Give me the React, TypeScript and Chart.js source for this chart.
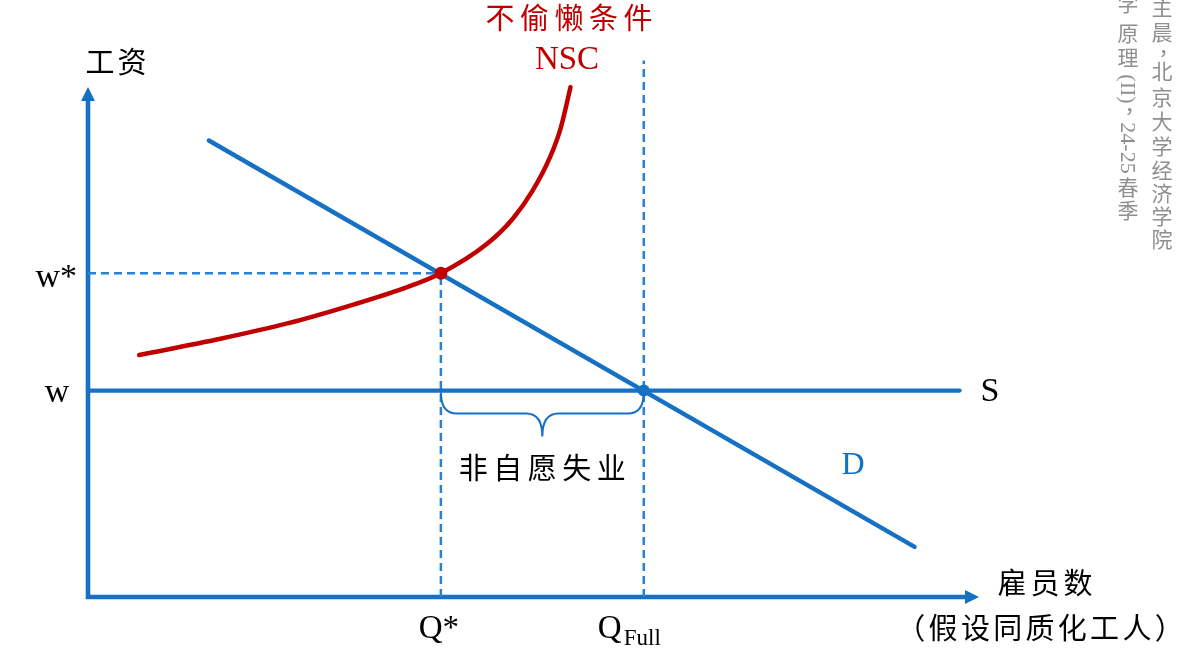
import React, { useEffect, useRef } from "react";
import { Chart, registerables } from "chart.js";

Chart.register(...registerables);

// ---- data (economic units) ----
const nscQ = [0.58, 1.5, 2.26, 3.0, 3.57, 4.0, 4.52, 4.82, 5.04, 5.24, 5.36, 5.47];
const nscW = [2.99, 3.19, 3.38, 3.61, 3.81, 4.0, 4.36, 4.68, 5.02, 5.44, 5.8, 6.3];
const demandQ = [1.37, 9.37];
const demandW = [5.64, 0.62];
const supplyQ = [0, 9.88];
const wageS = 2.55;
const qStar = 4.0;
const wStar = 4.0;
const qFull = 6.3;
const qFullTop = 6.63;
const xAxisMax = 10.1;
const yAxisTip = 6.3;

const textNSC = ["不偷懒条件", "NSC"];
const textYAxis = "工资";
const textXAxis = ["雇员数", "（假设同质化工人）"];
const textGap = "非自愿失业";
const waterRight: [string, number][] = [
  ["主", 7], ["晨", 32], ["，", 52], ["北", 71], ["京", 97], ["大", 121],
  ["学", 146], ["经", 170], ["济", 193], ["学", 216], ["院", 239],
];
const waterLeft: [string, number][] = [
  ["学", 3], ["原", 33], ["理", 57], ["(II)", 89], ["，", 110], ["24-25", 148], ["春", 187], ["季", 210],
];

const BLUE = "#1670c4";
const DASH_BLUE = "#2a80d4";
const RED = "#c00000";
const SERIF = '"Liberation Serif", "DejaVu Serif", serif';
const CJK = '"Noto Sans CJK SC", "Noto Sans", sans-serif';

function drawSpaced(ctx: CanvasRenderingContext2D, text: string, cx: number, cy: number, adv: number) {
  const chars = Array.from(text);
  const start = cx - (adv * (chars.length - 1)) / 2;
  chars.forEach((c, i) => ctx.fillText(c, start + i * adv, cy));
}

function drawVerticalColumn(ctx: CanvasRenderingContext2D, tokens: [string, number][], x: number) {
  ctx.textAlign = "center";
  ctx.textBaseline = "middle";
  for (const [t, y] of tokens) {
    if (/[A-Za-z0-9()\-]/.test(t)) {
      ctx.font = `22px ${SERIF}`;
      ctx.save();
      ctx.translate(x, y);
      ctx.rotate(Math.PI / 2);
      ctx.fillText(t, 0, 1);
      ctx.restore();
    } else if (t === "，") {
      ctx.font = `21px ${CJK}`;
      ctx.fillText(t, x + 7, y - 6);
    } else {
      ctx.font = `21px ${CJK}`;
      ctx.fillText(t, x, y);
    }
  }
}

export default function App() {
  const ref = useRef<HTMLCanvasElement>(null);

  useEffect(() => {
    const canvas = ref.current;
    if (!canvas) return;
    const ctx = canvas.getContext("2d")!;

    const annot = {
      id: "annot",
      beforeDraw(chart: any) {
        const c = chart.ctx;
        c.save();
        c.fillStyle = "#ffffff";
        c.fillRect(0, 0, chart.width, chart.height);
        c.restore();
      },
      beforeDatasetsDraw(chart: any) {
        const c = chart.ctx as CanvasRenderingContext2D;
        const xs = chart.scales.x;
        const ys = chart.scales.y;
        const x0 = xs.getPixelForValue(0);
        const y0 = ys.getPixelForValue(0);
        const yTip = ys.getPixelForValue(yAxisTip);
        const xTip = xs.getPixelForValue(xAxisMax);
        c.save();
        c.strokeStyle = BLUE;
        c.fillStyle = BLUE;
        c.lineWidth = 4.6;
        c.lineCap = "butt";
        c.beginPath();
        c.moveTo(x0, y0 + 2.3);
        c.lineTo(x0, yTip + 12);
        c.moveTo(x0 - 2.3, y0);
        c.lineTo(xTip - 12, y0);
        c.stroke();
        c.beginPath();
        c.moveTo(x0, yTip);
        c.lineTo(x0 - 7, yTip + 14);
        c.lineTo(x0 + 7, yTip + 14);
        c.closePath();
        c.fill();
        c.beginPath();
        c.moveTo(xTip, y0);
        c.lineTo(xTip - 14, y0 - 7);
        c.lineTo(xTip - 14, y0 + 7);
        c.closePath();
        c.fill();
        c.restore();
      },
      afterDatasetsDraw(chart: any) {
        const c = chart.ctx as CanvasRenderingContext2D;
        const xs = chart.scales.x;
        const ys = chart.scales.y;
        const px = (v: number) => xs.getPixelForValue(v);
        const py = (v: number) => ys.getPixelForValue(v);
        c.save();

        // brace
        const bx1 = px(qStar);
        const bx2 = px(qFull);
        const bm = (bx1 + bx2) / 2;
        const by0 = py(wageS) + 2;
        const by1 = by0 + 21;
        const by2 = by0 + 44;
        const r = 16;
        c.strokeStyle = BLUE;
        c.lineWidth = 2;
        c.beginPath();
        c.moveTo(bx1, by0);
        c.quadraticCurveTo(bx1, by1, bx1 + r, by1);
        c.lineTo(bm - r, by1);
        c.quadraticCurveTo(bm, by1, bm, by2);
        c.moveTo(bm, by2);
        c.quadraticCurveTo(bm, by1, bm + r, by1);
        c.lineTo(bx2 - r, by1);
        c.quadraticCurveTo(bx2, by1, bx2, by0);
        c.stroke();

        // texts
        c.textAlign = "center";
        c.textBaseline = "middle";
        c.fillStyle = "#000";
        c.font = `29px ${CJK}`;
        drawSpaced(c, textGap, bm, 468, 34.5);
        drawSpaced(c, textYAxis, 116, 62, 32);
        drawSpaced(c, textXAxis[0], 1045, 583, 33);
        drawSpaced(c, textXAxis[1], 1040, 628, 32.3);

        c.fillStyle = RED;
        c.font = `29px ${CJK}`;
        drawSpaced(c, textNSC[0], 569, 18, 34.5);
        c.font = `33px ${SERIF}`;
        c.fillText(textNSC[1], 567, 60);

        c.fillStyle = "#000";
        c.font = `34px ${SERIF}`;
        c.textBaseline = "alphabetic";
        c.textAlign = "right";
        c.fillText("w*", 77, py(wStar) + 14);
        c.textAlign = "center";
        c.fillText("w", 57, py(wageS) + 11);
        c.font = `33px ${SERIF}`;
        c.fillText("Q*", px(qStar) - 2, 638);
        c.textAlign = "left";
        c.fillText("Q", px(qFull) - 46, 638);
        c.font = `23px ${SERIF}`;
        c.fillText("Full", px(qFull) - 20, 645);
        c.textAlign = "center";
        c.textBaseline = "middle";
        c.font = `34px ${SERIF}`;
        c.fillText("S", 990, py(wageS) + 1);
        c.font = `32px ${SERIF}`;
        c.fillStyle = BLUE;
        c.fillText("D", 853, 466);

        // watermark (vertical text, cut by the top edge)
        c.fillStyle = "#8f8f8f";
        drawVerticalColumn(c, waterRight, 1162);
        drawVerticalColumn(c, waterLeft, 1128);
        c.restore();
      },
    };

    const pts = (xs: number[], ys: number[]) => xs.map((x, i) => ({ x, y: ys[i] }));
    const dashed = (data: { x: number; y: number }[]) => ({
      data,
      showLine: true,
      borderColor: DASH_BLUE,
      borderWidth: 2.5,
      borderDash: [8, 5],
      pointRadius: 0,
      order: 5,
    });

    const chart = new Chart(ctx, {
      type: "scatter",
      data: {
        datasets: [
          dashed([{ x: 0, y: wStar }, { x: qStar, y: wStar }]),
          dashed([{ x: qStar, y: 0 }, { x: qStar, y: wStar }]),
          dashed([{ x: qFull, y: 0 }, { x: qFull, y: qFullTop }]),
          {
            data: supplyQ.map((x) => ({ x, y: wageS })),
            showLine: true,
            borderColor: BLUE,
            borderWidth: 4.2,
            borderCapStyle: "round",
            pointRadius: 0,
            order: 4,
          },
          {
            data: pts(demandQ, demandW),
            showLine: true,
            borderColor: BLUE,
            borderWidth: 4.4,
            borderCapStyle: "round",
            pointRadius: 0,
            order: 3,
          },
          {
            data: pts(nscQ, nscW),
            showLine: true,
            borderColor: RED,
            borderWidth: 4.5,
            borderCapStyle: "round",
            cubicInterpolationMode: "monotone",
            pointRadius: 0,
            order: 2,
          },
          {
            data: [{ x: qStar, y: wStar }],
            pointRadius: 6.5,
            pointStyle: "circle",
            pointBackgroundColor: RED,
            pointBorderColor: RED,
            pointBorderWidth: 0,
            order: 1,
          },
          {
            data: [{ x: qFull, y: wageS }],
            pointRadius: 6,
            pointStyle: "circle",
            pointBackgroundColor: BLUE,
            pointBorderColor: BLUE,
            pointBorderWidth: 0,
            order: 0,
          },
        ] as any,
      },
      options: {
        animation: false,
        responsive: false,
        devicePixelRatio: 1,
        clip: false as any,
        layout: { padding: { left: 88, right: 209, top: 79, bottom: 64 } },
        plugins: { legend: { display: false }, tooltip: { enabled: false } },
        events: [],
        scales: {
          x: { type: "linear", min: 0, max: xAxisMax, display: false },
          y: { type: "linear", min: 0, max: 6.4, display: false },
        },
      },
      plugins: [annot],
    });

    return () => chart.destroy();
  }, []);

  return (
    <div style={{ position: "absolute", left: 0, top: 0, width: 1188, height: 661, background: "#fff" }}>
      <canvas ref={ref} width={1188} height={661} style={{ width: 1188, height: 661, display: "block" }} />
    </div>
  );
}
